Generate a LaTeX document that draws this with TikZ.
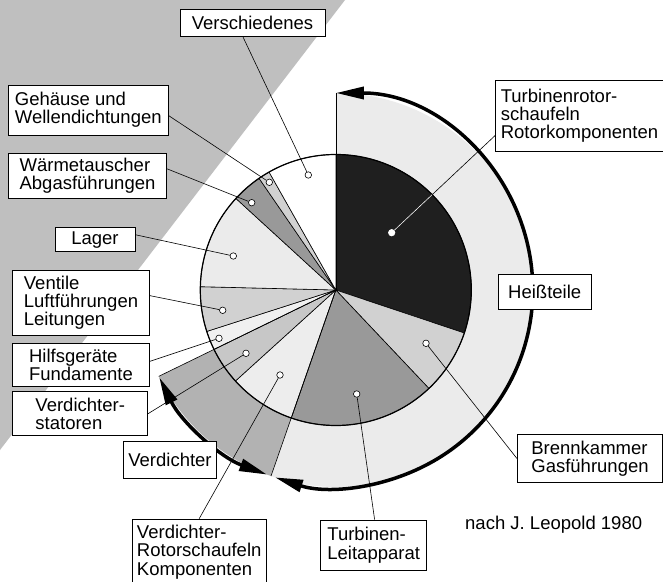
\documentclass[tikz,border=0pt]{standalone}
\usepackage{fontspec}
\setmainfont{Liberation Sans}
\usetikzlibrary{arrows.meta}

\begin{document}
\begin{tikzpicture}[x=1pt, y=1pt,
  sector/.style = {draw, line width=0.6pt},
  textbox/.style = {draw, fill=white, align=left, line width=0.7pt, inner xsep=5pt, inner ysep=2pt, font=\fontsize{18.5}{18.3}\selectfont},
  endpt/.style = {draw, circle, fill=white, inner sep=0pt, minimum size=6.5pt, line width=0.6pt},
  leader/.style = {line width=0.6pt},
  bigarrow/.style = {line width=3.5pt, arrows={Triangle[length=28pt, width=12pt]-Triangle[length=28pt, width=12pt]}}]
\path[use as bounding box, fill=white] (0,0) rectangle (663,581);
\fill[black!25] (0,581) -- (345,581) -- (0,131) -- cycle;

\coordinate (c) at (335.8,291);

%% rings and sectors
\begin{scope}[shift={(c)}]
\fill[black!8] (0,0) -- (90:197) arc[start angle=90, end angle=-109.2, radius=197] -- cycle;
\fill[black!30] (0,0) -- (206:197) arc[start angle=206, end angle=250.8, radius=197] -- cycle;

\filldraw[sector, fill=black!88] (0,0) -- (90:135.5) arc[start angle=90, end angle=-18.5, radius=135.5] -- cycle;
\filldraw[sector, fill=black!18] (0,0) -- (-18.5:135.5) arc[start angle=-18.5, end angle=-46.6, radius=135.5] -- cycle;
\filldraw[sector, fill=black!40] (0,0) -- (-46.6:135.5) arc[start angle=-46.6, end angle=-109.2, radius=135.5] -- cycle;
\filldraw[sector, fill=black!7] (0,0) -- (250.8:135.5) arc[start angle=250.8, end angle=222.2, radius=135.5] -- cycle;
\filldraw[sector, fill=black!22] (0,0) -- (222.2:135.5) arc[start angle=222.2, end angle=206, radius=135.5] -- cycle;
\filldraw[sector, fill=black!6] (0,0) -- (206:135.5) arc[start angle=206, end angle=197.8, radius=135.5] -- cycle;
\filldraw[sector, fill=black!18] (0,0) -- (197.8:135.5) arc[start angle=197.8, end angle=178.6, radius=135.5] -- cycle;
\filldraw[sector, fill=black!8] (0,0) -- (178.6:135.5) arc[start angle=178.6, end angle=137.5, radius=135.5] -- cycle;
\filldraw[sector, fill=black!40] (0,0) -- (137.5:135.5) arc[start angle=137.5, end angle=124.5, radius=135.5] -- cycle;
\filldraw[sector, fill=black!18] (0,0) -- (124.5:135.5) arc[start angle=124.5, end angle=119.5, radius=135.5] -- cycle;
\filldraw[sector, fill=white] (0,0) -- (119.5:135.5) arc[start angle=119.5, end angle=90, radius=135.5] -- cycle;

\draw[sector] (0,0) -- (90:197);
\draw[sector] (0,0) -- (206:197);
\draw[sector] (0,0) -- (250.8:197);
\draw[line width=1.2pt] (0,0) circle[radius=135.5];

%% arrows
\draw[bigarrow] (90:197) arc[start angle=90, end angle=-108, radius=197];
\draw[bigarrow] (206.3:197) arc[start angle=206.3, end angle=249.6, radius=197];
\end{scope}

%% points
\node[endpt] (pv) at (308.3,406) {};
\node[endpt] (pg) at (269.3,398.7) {};
\node[endpt] (pw) at (251.7,378.3) {};
\node[endpt] (pl) at (233.3,325) {};
\node[endpt] (pvt) at (222.7,270.7) {};
\node[endpt] (ph) at (219,242.7) {};
\node[endpt] (ps) at (246,227.7) {};
\node[endpt] (pr) at (280,206) {};
\node[endpt] (pt) at (356.7,187) {};
\node[endpt] (pb) at (426,237.7) {};
\node[endpt, draw=white] (pk) at (391.7,348.3) {};

%% labels
\node[textbox, minimum width=145pt, minimum height=27.4pt] (verschiedenes) at (252.5,558) {Verschiedenes};
\node[textbox, minimum width=160pt, minimum height=50pt] (gehaeuse) at (88.3,471) {Gehäuse und\\Wellendichtungen};
\node[textbox, minimum width=158.4pt, minimum height=45pt] (waerme) at (87.5,405.2) {Wärmetauscher\\Abgasführungen};
\node[textbox, minimum width=80pt, minimum height=24pt] (lager) at (95,341.3) {Lager};
\node[textbox, minimum width=136.6pt, minimum height=64.3pt] (ventile) at (81,278.2) {Ventile\\Luftführungen\\Leitungen};
\node[textbox, minimum width=136.6pt, minimum height=43.4pt] (hilfs) at (81,216) {Hilfsgeräte\\Fundamente};
\node[textbox, minimum width=135pt, minimum height=44pt] (statoren) at (80.2,167.3) {Verdichter-\\statoren};
\node[textbox, minimum width=90pt, minimum height=37.3pt] (verdichter) at (170,121.3) {Verdichter};
\node[textbox, minimum width=133.7pt, minimum height=66pt] (vrotor) at (199.2,29) {Verdichter-\\Rotorschaufeln\\Komponenten};
\node[textbox, minimum width=106pt, minimum height=50.7pt] (leitapparat) at (373.7,35.7) {Turbinen-\\Leitapparat};
\node[textbox, minimum width=145.4pt, minimum height=48.4pt] (brennkammer) at (590,122.5) {Brennkammer\\Gasführungen};
\node[textbox, minimum width=92.7pt, minimum height=34.3pt] (heiss) at (544.7,289) {Heißteile};
\node[textbox, minimum width=165pt, minimum height=71.7pt] (turbrotor) at (579.5,465.2) {Turbinenrotor-\\schaufeln\\Rotorkomponenten};
\node[anchor=base west, inner sep=0pt, font=\fontsize{18.5}{18.3}\selectfont] (quelle) at (465,51.7) {nach J. Leopold 1980};

%%% leaders
\draw[leader] (pv) -- (verschiedenes.236);
\draw[leader] (pg) -- (gehaeuse.356);
\draw[leader] (pw) -- (waerme.5);
\draw[leader] (pl) -- (lager.7);
\draw[leader] (pvt) -- (ventile.6);
\draw[leader] (ph) -- (hilfs.3);
\draw[leader] (ps) -- (statoren.east);
\draw[leader] (pr) -- (vrotor.north);
\draw[leader] (pt) -- (leitapparat.88);
\draw[leader] (pb) -- (brennkammer.west);
\draw[leader] (pk) -- (turbrotor.193);
\begin{scope}
\clip (c) -- ++(90:135.5) arc[start angle=90, end angle=-18.5, radius=135.5] -- cycle;
\draw[leader, white] (pk) -- (turbrotor.193);
\end{scope}

\end{tikzpicture}
\end{document}
